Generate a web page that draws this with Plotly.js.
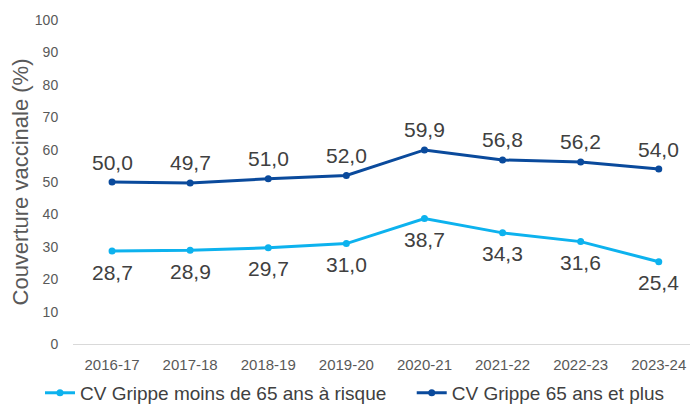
<!DOCTYPE html>
<html>
<head>
<meta charset="utf-8">
<script src="https://cdn.plot.ly/plotly-3.0.1.min.js"></script>
<style>
html,body{margin:0;padding:0;background:#fff;}
#chart{width:690px;height:405px;}
</style>
</head>
<body>
<div id="chart"></div>
<script>
const seasons = ["2016-17","2017-18","2018-19","2019-20","2020-21","2021-22","2022-23","2023-24"];
const cvMoins65Risque = [28.7, 28.9, 29.7, 31.0, 38.7, 34.3, 31.6, 25.4];
const cv65Plus = [50.0, 49.7, 51.0, 52.0, 59.9, 56.8, 56.2, 54.0];
const yTicks = [0,10,20,30,40,50,60,70,80,90,100];

const font = "Liberation Sans, Arial, sans-serif";
const lightBlue = "#0DB2EE";
const darkBlue = "#0A4A9C";
const labelFont = {family: font, size: 21, color: "#404040"};

const traces = [
  {
    x: seasons, y: cvMoins65Risque, name: "CV Grippe moins de 65 ans à risque",
    type: "scatter", mode: "lines+markers", legend: "legend",
    line: {color: lightBlue, width: 3}, marker: {color: lightBlue, size: 7},
    hoverinfo: "skip", cliponaxis: false
  },
  {
    x: seasons, y: cv65Plus, name: "CV Grippe 65 ans et plus",
    type: "scatter", mode: "lines+markers", legend: "legend2",
    line: {color: darkBlue, width: 3}, marker: {color: darkBlue, size: 7},
    hoverinfo: "skip", cliponaxis: false
  }
];

const fmt = v => v.toFixed(1).replace(".", ",");
const annotations = [];
seasons.forEach((s, i) => {
  annotations.push({x: s, y: cvMoins65Risque[i], xref: "x", yref: "y", text: fmt(cvMoins65Risque[i]),
    showarrow: false, yanchor: "middle", xanchor: "center", yshift: -21, font: labelFont});
  annotations.push({x: s, y: cv65Plus[i], xref: "x", yref: "y", text: fmt(cv65Plus[i]),
    showarrow: false, yanchor: "middle", xanchor: "center", yshift: 20, font: labelFont});
});

const legendFont = {family: font, size: 19, color: "#404040"};
const layout = {
  width: 690, height: 405,
  margin: {l: 73, r: 0, t: 20, b: 61, pad: 0, autoexpand: false},
  paper_bgcolor: "#ffffff", plot_bgcolor: "#ffffff",
  font: {family: font, color: "#595959"},
  showlegend: true,
  annotations: annotations,
  legend: {
    orientation: "h", x: -0.0535, xanchor: "left", y: -0.151, yanchor: "middle",
    font: legendFont, itemclick: false
  },
  legend2: {
    orientation: "h", x: 0.549, xanchor: "left", y: -0.151, yanchor: "middle",
    font: legendFont, itemclick: false
  },
  xaxis: {
    type: "category", range: [-0.5, 7.4], fixedrange: true, automargin: false,
    showgrid: false, zeroline: false, showline: true, linecolor: "#d9d9d9", linewidth: 1,
    ticks: "outside", ticklen: 7, tickcolor: "rgba(0,0,0,0)",
    tickfont: {family: font, size: 15, color: "#595959"}
  },
  yaxis: {
    range: [0, 100], tickvals: yTicks, fixedrange: true, automargin: false,
    showgrid: false, zeroline: false, showline: false,
    ticks: "outside", ticklen: 11, tickcolor: "rgba(0,0,0,0)",
    tickfont: {family: font, size: 14, color: "#595959"},
    title: {text: "Couverture vaccinale (%)", font: {family: font, size: 22, color: "#595959"}, standoff: 0}
  }
};

Plotly.newPlot("chart", traces, layout, {displayModeBar: false, staticPlot: true});
</script>
</body>
</html>
